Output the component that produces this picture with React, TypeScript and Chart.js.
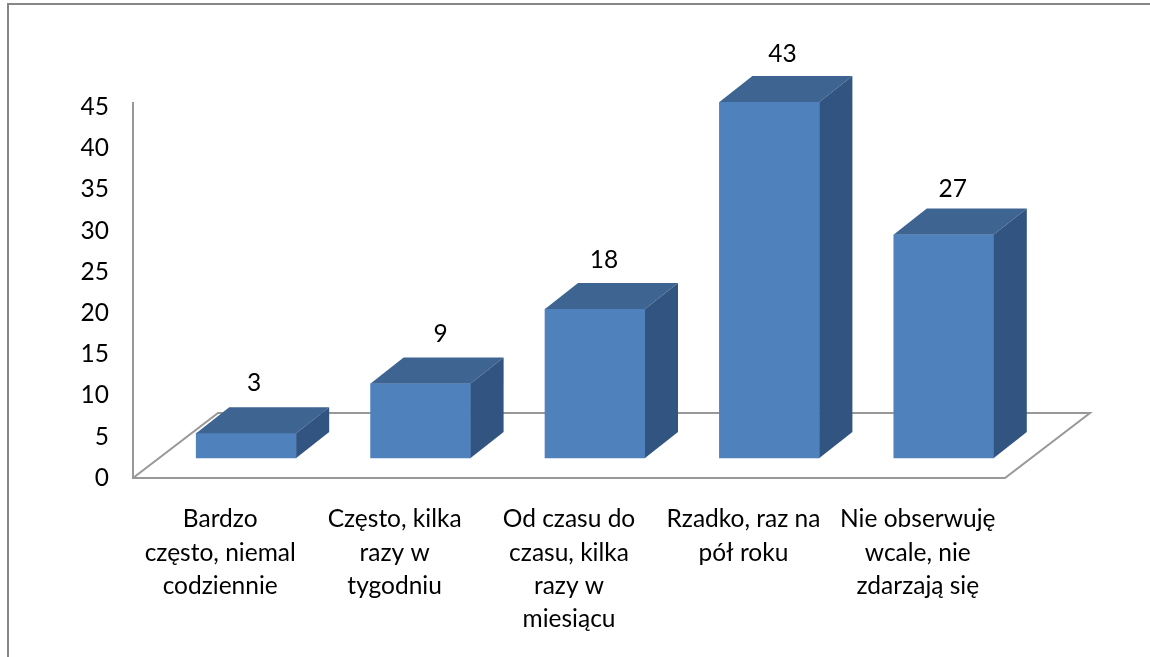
import React, { useEffect, useRef } from "react";
import { Chart, registerables } from "chart.js";

Chart.register(...registerables);

const categories: string[][] = [
  ["Bardzo", "często, niemal", "codziennie"],
  ["Często, kilka", "razy w", "tygodniu"],
  ["Od czasu do", "czasu, kilka", "razy w", "miesiącu"],
  ["Rzadko, raz na", "pół roku"],
  ["Nie obserwuję", "wcale, nie", "zdarzają się"],
];
const values: number[] = [3, 9, 18, 43, 27];

const FONT = "Lato, 'Open Sans', sans-serif";
const FONT_SIZE = 24.5;
const FRONT = "#4F81BD";
const TOP = "#3E6491";
const SIDE = "#325480";
const LINE = "#989898";
const FRAME = "#868686";
const DEPTH_X = 33;
const DEPTH_Y = 26;
const FLOOR_X = 26;
const FLOOR_BACK_X = 59;
const FLOOR_BACK_Y = 65;
const LABEL_DX = [8, 20, 9, 13, 9];
const LABEL_DY = [50, 49, 49, 48, 45];

const scene3d = {
  id: "scene3d",
  beforeDatasetsDraw(chart: any) {
    const { ctx, chartArea: a } = chart;
    const frontL = a.left - FLOOR_X;
    const frontR = a.right - FLOOR_X;
    const y0 = a.bottom;
    ctx.save();
    ctx.strokeStyle = FRAME;
    ctx.lineWidth = 2;
    ctx.beginPath();
    ctx.moveTo(8, 657);
    ctx.lineTo(8, 4);
    ctx.lineTo(1150, 4);
    ctx.stroke();
    ctx.strokeStyle = LINE;
    ctx.beginPath();
    ctx.moveTo(frontL, a.top);
    ctx.lineTo(frontL, y0);
    ctx.lineTo(frontR, y0);
    ctx.lineTo(a.right + FLOOR_BACK_X, y0 - FLOOR_BACK_Y);
    ctx.lineTo(a.left + FLOOR_BACK_X, y0 - FLOOR_BACK_Y);
    ctx.lineTo(frontL, y0);
    ctx.stroke();
    ctx.restore();
  },
  afterDatasetsDraw(chart: any) {
    const { ctx } = chart;
    const meta = chart.getDatasetMeta(0);
    ctx.save();
    meta.data.forEach((bar: any, i: number) => {
      const w = bar.width;
      const l = bar.x - w / 2;
      const r = bar.x + w / 2;
      const t = bar.y;
      const b = bar.base;
      ctx.fillStyle = TOP;
      ctx.beginPath();
      ctx.moveTo(l, t);
      ctx.lineTo(l + DEPTH_X, t - DEPTH_Y);
      ctx.lineTo(r + DEPTH_X, t - DEPTH_Y);
      ctx.lineTo(r, t);
      ctx.closePath();
      ctx.fill();
      ctx.fillStyle = SIDE;
      ctx.beginPath();
      ctx.moveTo(r, t);
      ctx.lineTo(r + DEPTH_X, t - DEPTH_Y);
      ctx.lineTo(r + DEPTH_X, b - DEPTH_Y);
      ctx.lineTo(r, b);
      ctx.closePath();
      ctx.fill();
      ctx.fillStyle = "#000";
      ctx.font = `${FONT_SIZE}px ${FONT}`;
      ctx.textAlign = "center";
      ctx.textBaseline = "middle";
      ctx.fillText(String(values[i]), bar.x + LABEL_DX[i], t - LABEL_DY[i]);
    });
    ctx.restore();
  },
};

export default function App() {
  const ref = useRef<HTMLCanvasElement>(null);
  useEffect(() => {
    const chart = new Chart(ref.current as HTMLCanvasElement, {
      type: "bar",
      data: {
        labels: categories,
        datasets: [
          {
            data: values,
            yAxisID: "yBar",
            backgroundColor: FRONT,
            barThickness: 100,
          },
        ],
      },
      plugins: [scene3d],
      options: {
        responsive: false,
        animation: false,
        layout: { padding: { top: 102, right: 119, bottom: 0, left: 0 } },
        plugins: { legend: { display: false }, tooltip: { enabled: false } },
        scales: {
          x: {
            grid: { display: false },
            border: { display: false },
            afterFit(s: any) {
              s.height = 179;
            },
            ticks: {
              autoSkip: false,
              maxRotation: 0,
              minRotation: 0,
              labelOffset: -26,
              padding: 17,
              color: "#000",
              font: { family: FONT, size: FONT_SIZE, lineHeight: 1.35 },
            },
          },
          y: {
            min: 0,
            max: 45.6,
            grid: { display: false },
            border: { display: false },
            afterFit(s: any) {
              s.width = 159;
            },
            ticks: {
              stepSize: 5,
              includeBounds: false,
              padding: 42,
              color: "#000",
              font: { family: FONT, size: FONT_SIZE },
            },
          },
          yBar: {
            display: false,
            min: -2.415,
            max: 43,
          },
        },
      },
    } as any);
    return () => chart.destroy();
  }, []);
  return (
    <div style={{ position: "absolute", left: 0, top: 0, width: 1150, height: 657, background: "#fff", overflow: "hidden" }}>
      <canvas ref={ref} width={1150} height={657} style={{ display: "block" }} />
    </div>
  );
}
